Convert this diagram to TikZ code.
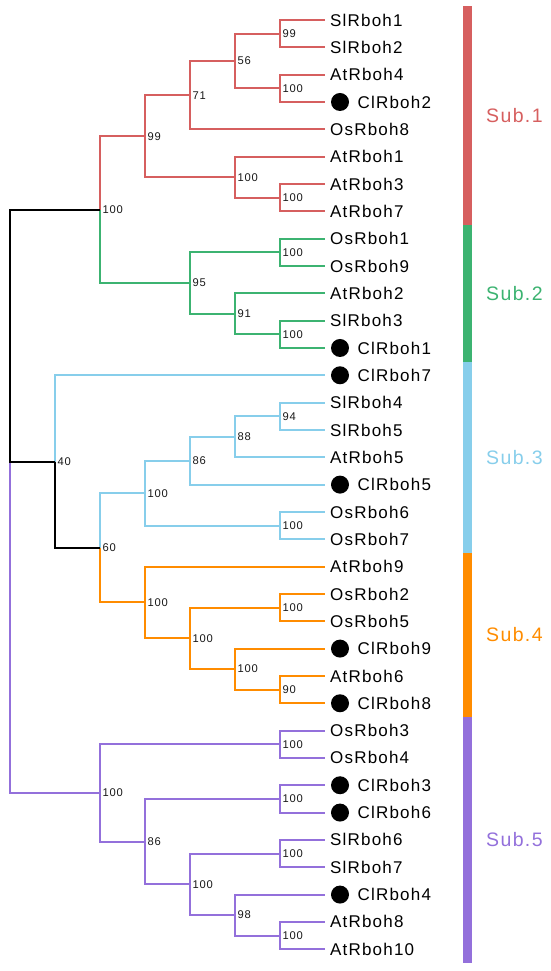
\documentclass[tikz,border=0pt]{standalone}
\usepackage{fontspec}
\setmainfont{Liberation Sans}[LetterSpace=7]
\definecolor{cred}{HTML}{D65F5F}
\definecolor{cgreen}{HTML}{3CB371}
\definecolor{cblue}{HTML}{87CEEB}
\definecolor{corange}{HTML}{FF8C00}
\definecolor{cpurple}{HTML}{9370DB}
\begin{document}
\begin{tikzpicture}[x=1pt,y=-27.33pt,
  br/.style={line width=2pt},
  bs/.style={anchor=west, inner sep=0pt, xshift=2.5pt, text=black!90, font=\fontsize{11.2}{13}\selectfont},
  lf/.style={anchor=west, inner sep=0pt, font=\fontsize{17}{20}\selectfont},
  leafdot/.style={circle, fill=black, minimum size=18pt, inner sep=0pt},
  sublab/.style={anchor=west, inner sep=0pt, font=\fontsize{19.5}{22}\selectfont}]
\useasboundingbox (0pt,0pt) rectangle (550pt,-971pt);
\begin{scope}[yshift=-20pt]
% leaves
\foreach \i in {0,...,34} \coordinate (l\i) at (325,\i);
\foreach \i/\n/\d in {0/SlRboh1/0,1/SlRboh2/0,2/AtRboh4/0,3/ClRboh2/1,4/OsRboh8/0,5/AtRboh1/0,6/AtRboh3/0,7/AtRboh7/0,
  8/OsRboh1/0,9/OsRboh9/0,10/AtRboh2/0,11/SlRboh3/0,12/ClRboh1/1,13/ClRboh7/1,14/SlRboh4/0,15/SlRboh5/0,16/AtRboh5/0,
  17/ClRboh5/1,18/OsRboh6/0,19/OsRboh7/0,20/AtRboh9/0,21/OsRboh2/0,22/OsRboh5/0,23/ClRboh9/1,24/AtRboh6/0,25/ClRboh8/1,
  26/OsRboh3/0,27/OsRboh4/0,28/ClRboh3/1,29/ClRboh6/1,30/SlRboh6/0,31/SlRboh7/0,32/ClRboh4/1,33/AtRboh8/0,34/AtRboh10/0}{
  \ifnum\d=1
    \node[leafdot] (d\i) at (340,\i) {};
    \node[lf] (t\i) at (357.5,\i) {\n};
  \else
    \node[lf] (t\i) at (330,\i) {\n};
  \fi
}
% internal nodes
\coordinate (A) at (280,0.5);
\coordinate (B) at (280,2.5);
\coordinate (C) at (235,1.5);
\coordinate (D) at (190,2.75);
\coordinate (F) at (280,6.5);
\coordinate (E) at (235,5.75);
\coordinate (G) at (145,4.25);
\coordinate (J) at (280,8.5);
\coordinate (K) at (280,11.5);
\coordinate (L) at (235,10.75);
\coordinate (I) at (190,9.625);
\coordinate (H) at (100,6.9375);
\coordinate (R) at (280,14.5);
\coordinate (S) at (235,15.25);
\coordinate (T) at (190,16.125);
\coordinate (U) at (280,18.5);
\coordinate (P) at (145,17.3125);
\coordinate (V) at (280,21.5);
\coordinate (W) at (280,24.5);
\coordinate (X) at (235,23.75);
\coordinate (Y) at (190,22.625);
\coordinate (Q) at (145,21.3125);
\coordinate (O) at (100,19.3125);
\coordinate (N) at (55,16.15625);
\coordinate (Z1) at (280,26.5);
\coordinate (Z2) at (280,28.5);
\coordinate (Z3) at (280,30.5);
\coordinate (Z4) at (280,33.5);
\coordinate (Z5) at (235,32.75);
\coordinate (Z6) at (190,31.625);
\coordinate (Z7) at (145,30.0625);
\coordinate (Z8) at (100,28.28125);
\coordinate (R0) at (10,6.9375);
\coordinate (RM) at (10,16.15625);
\coordinate (RB) at (10,28.28125);
% branches
\begin{scope}[br, draw=cred]
\draw (A) |- (l0); \draw (A) |- (l1);
\draw (B) |- (l2); \draw (B) |- (l3);
\draw (C) |- (A); \draw (C) |- (B);
\draw (D) |- (C); \draw (D) |- (l4);
\draw (F) |- (l6); \draw (F) |- (l7);
\draw (E) |- (l5); \draw (E) |- (F);
\draw (G) |- (D); \draw (G) |- (E);
\draw (H) |- (G);
\end{scope}
\begin{scope}[br, draw=cgreen]
\draw (J) |- (l8); \draw (J) |- (l9);
\draw (K) |- (l11); \draw (K) |- (l12);
\draw (L) |- (l10); \draw (L) |- (K);
\draw (I) |- (J); \draw (I) |- (L);
\draw (H) |- (I);
\end{scope}
\begin{scope}[br, draw=cblue]
\draw (N) |- (l13);
\draw (R) |- (l14); \draw (R) |- (l15);
\draw (S) |- (R); \draw (S) |- (l16);
\draw (T) |- (S); \draw (T) |- (l17);
\draw (U) |- (l18); \draw (U) |- (l19);
\draw (P) |- (T); \draw (P) |- (U);
\draw (O) |- (P);
\end{scope}
\begin{scope}[br, draw=corange]
\draw (V) |- (l21); \draw (V) |- (l22);
\draw (W) |- (l24); \draw (W) |- (l25);
\draw (X) |- (l23); \draw (X) |- (W);
\draw (Y) |- (V); \draw (Y) |- (X);
\draw (Q) |- (l20); \draw (Q) |- (Y);
\draw (O) |- (Q);
\end{scope}
\begin{scope}[br, draw=cpurple]
\draw (Z1) |- (l26); \draw (Z1) |- (l27);
\draw (Z2) |- (l28); \draw (Z2) |- (l29);
\draw (Z3) |- (l30); \draw (Z3) |- (l31);
\draw (Z4) |- (l33); \draw (Z4) |- (l34);
\draw (Z5) |- (l32); \draw (Z5) |- (Z4);
\draw (Z6) |- (Z3); \draw (Z6) |- (Z5);
\draw (Z7) |- (Z2); \draw (Z7) |- (Z6);
\draw (Z8) |- (Z1); \draw (Z8) |- (Z7);
\draw (RM) -- (RB) -- (Z8);
\end{scope}
\begin{scope}[br, draw=black]
\draw (H) -- (R0) -- (RM) -- (N);
\draw (N) |- (O);
\end{scope}
% bootstrap values
\foreach \c/\v in {A/99,B/100,C/56,D/71,E/100,F/100,G/99,H/100,J/100,K/100,L/91,I/95,N/40,O/60,R/94,S/88,T/86,U/100,P/100,
  V/100,W/90,X/100,Y/100,Q/100,Z1/100,Z2/100,Z3/100,Z4/100,Z5/98,Z6/100,Z7/86,Z8/100}
  \node[bs] (b\c) at (\c) {\v};
% subfamily bar
\fill[cred] (463,-0.5) rectangle (472,7.5);
\fill[cgreen] (463,7.5) rectangle (472,12.5);
\fill[cblue] (463,12.5) rectangle (472,19.5);
\fill[corange] (463,19.5) rectangle (472,25.5);
\fill[cpurple] (463,25.5) rectangle (472,34.5);
\node[sublab, text=cred] (s1) at (486,3.5) {Sub.1};
\node[sublab, text=cgreen] (s2) at (486,10) {Sub.2};
\node[sublab, text=cblue] (s3) at (486,16) {Sub.3};
\node[sublab, text=corange] (s4) at (486,22.5) {Sub.4};
\node[sublab, text=cpurple] (s5) at (486,30) {Sub.5};
\end{scope}
\end{tikzpicture}
\end{document}
